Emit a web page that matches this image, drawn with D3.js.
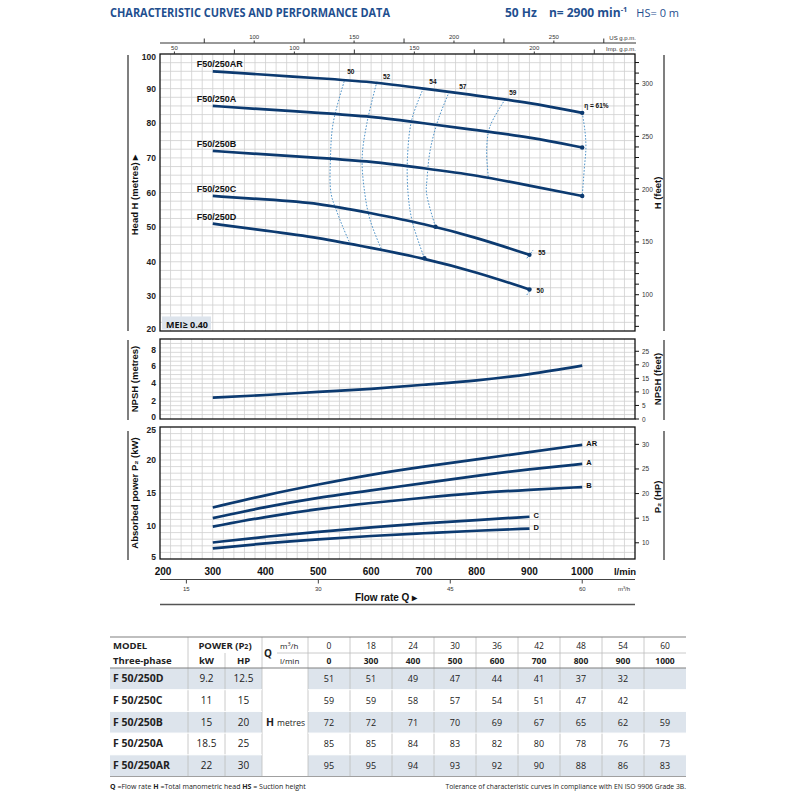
<!DOCTYPE html>
<html>
<head>
<meta charset="utf-8">
<script src="https://cdn.jsdelivr.net/npm/d3@7/dist/d3.min.js"></script>
<style>
  body { margin: 0; background: #fff; }
  svg { display: block; }
  .lbl { font-family: "Liberation Sans Narrow", "Liberation Sans", Arial, sans-serif; }
  .tbl { font-family: "Open Sans", "Noto Sans", sans-serif; }
</style>
</head>
<body>
<script>

//Table data
var qLmin = [0, 300, 400, 500, 600, 700, 800, 900, 1000];
var qM3h = [0, 18, 24, 30, 36, 42, 48, 54, 60];
var models = ["F 50/250D", "F 50/250C", "F 50/250B", "F 50/250A", "F 50/250AR"];
var curveNames = ["F50/250D", "F50/250C", "F50/250B", "F50/250A", "F50/250AR"];
var powerKw = [9.2, 11, 15, 18.5, 22];
var powerHp = [12.5, 15, 20, 25, 30];
var headD = [51, 51, 49, 47, 44, 41, 37, 32, null];
var headC = [59, 59, 58, 57, 54, 51, 47, 42, null];
var headB = [72, 72, 71, 70, 69, 67, 65, 62, 59];
var headA = [85, 85, 84, 83, 82, 80, 78, 76, 73];
var headAR = [95, 95, 94, 93, 92, 90, 88, 86, 83];
var heads = [headD, headC, headB, headA, headAR];

//NPSH curve
var npshQ = [300, 400, 500, 600, 700, 800, 900, 1000];
var npshM = [2.4, 2.7, 3.05, 3.4, 3.85, 4.35, 5.05, 6.0];

//Absorbed power curves
var powQ = [300, 400, 500, 600, 700, 800, 900, 1000];
var powD = [6.6, 7.4, 8.0, 8.5, 8.9, 9.3, 9.6];
var powC = [7.5, 8.4, 9.1, 9.8, 10.4, 10.9, 11.4];
var powB = [9.9, 11.4, 12.6, 13.5, 14.3, 15.0, 15.5, 15.9];
var powA = [11.2, 12.9, 14.3, 15.4, 16.5, 17.6, 18.6, 19.4];
var powAR = [12.8, 14.7, 16.3, 17.8, 19.0, 20.1, 21.2, 22.3];
var powers = [powD, powC, powB, powA, powAR];
var powNames = ["D", "C", "B", "A", "AR"];

//Efficiency curves [Q, H]
var eff50 = [[549, 92.1], [528, 80], [523, 69.9], [524, 59.8], [535, 54.5], [548, 49.5], [560, 45.2]];
var eff52 = [[611, 92.0], [592, 80], [583, 69.9], [588, 59.8], [598, 52.1], [620, 43.4]];
var eff54 = [[699, 90.1], [677, 81], [669, 70.4], [670, 59.8], [678, 51.6], [701, 41]];
var eff57 = [[748, 89.1], [727, 81], [712, 72.3], [706, 64], [705, 59.8], [722, 50.1]];
var eff59 = [[854, 86.9], [825, 79], [819, 72.3], [822, 64.5]];
var eff61 = [[1000, 83], [1005, 78], [1007, 73], [1004, 67], [1000, 59]];
var eff55 = [[895, 41.0], [907, 43.4]];
var eff50b = [[895, 30.4], [904, 32.4]];
var effCurves = [eff50, eff52, eff54, eff57, eff59, eff61, eff55, eff50b];
var effLabels = ["50", "52", "54", "57", "59", "\u03b7 = 61%", "55", "50"];
var effMarks = [[701, 41], [722, 50.1]];

//Axis ticks
var headTicks = [20, 30, 40, 50, 60, 70, 80, 90, 100];
var feetTicks = [100, 150, 200, 250, 300];
var npshTicks = [0, 2, 4, 6, 8];
var npshFtTicks = [0, 5, 10, 15, 20, 25];
var powTicks = [5, 10, 15, 20, 25];
var hpTicks = [10, 15, 20, 25, 30];
var qTicks = [200, 300, 400, 500, 600, 700, 800, 900, 1000];
var m3hTicks = [15, 30, 45, 60];
var usTicks = [100, 150, 200, 250];
var impTicks = [50, 100, 150, 200];

var navy = "#0c3a70";
var effBlue = "#4f93c8";
var gridC = "#cfcfcf";
var shade = "#dde4ec";

var svg = d3.select("body").append("svg")
    .attr("width", 800)
    .attr("height", 800);

//Set up scales
var x = d3.scaleLinear().domain([200, 1100]).range([160, 635]);
var yH = d3.scaleLinear().domain([20, 100]).range([331, 54]);
var yN = d3.scaleLinear().domain([0, 9]).range([419, 339]);
var yP = d3.scaleLinear().domain([5, 25]).range([559, 427]);

var FT = 0.3048, HPKW = 0.7457;

//Title
svg.append("text").attr("class", "tbl")
    .attr("x", 110).attr("y", 17)
    .attr("font-size", 12.5).attr("font-weight", "bold").attr("fill", "#1f4f8f")
    .attr("textLength", 280).attr("lengthAdjust", "spacingAndGlyphs")
    .text("CHARACTERISTIC CURVES AND PERFORMANCE DATA");

var head = svg.append("text").attr("class", "tbl")
    .attr("x", 505).attr("y", 17)
    .attr("font-size", 12).attr("fill", "#1f4f8f");
head.append("tspan").attr("font-weight", "bold").text("50 Hz");
head.append("tspan").attr("dx", 12).attr("font-weight", "bold").text("n= 2900 min");
head.append("tspan").attr("font-weight", "bold").attr("font-size", 7.5).attr("dy", -5).text("-1");
head.append("tspan").attr("dx", 9).attr("dy", 5).attr("font-size", 11).text("HS= 0 m");

//Draw a panel: grid + border
function panel(yScale, hStep, y0, y1) {
    var g = svg.append("g");
    g.selectAll(".vg")
        .data(d3.range(220, 1100, 20))
        .enter().append("line")
        .attr("x1", function(d) { return x(d); })
        .attr("x2", function(d) { return x(d); })
        .attr("y1", yScale(y0)).attr("y2", yScale(y1))
        .attr("stroke", gridC).attr("stroke-width", 0.8);
    g.selectAll(".hg")
        .data(d3.range(y0 + hStep, y1 - 0.001, hStep))
        .enter().append("line")
        .attr("x1", x(200)).attr("x2", x(1100))
        .attr("y1", function(d) { return yScale(d); })
        .attr("y2", function(d) { return yScale(d); })
        .attr("stroke", gridC).attr("stroke-width", 0.8);
    g.append("rect")
        .attr("x", x(200)).attr("y", yScale(y1))
        .attr("width", x(1100) - x(200)).attr("height", yScale(y0) - yScale(y1))
        .attr("fill", "none").attr("stroke", "#111").attr("stroke-width", 1.3);
    return g;
}

//labels at panel edges are nudged inside
function leftLabels(ticks, yScale) {
    var lo = d3.min(ticks), hi = d3.max(ticks);
    svg.append("g").selectAll("text")
        .data(ticks).enter().append("text").attr("class", "lbl")
        .attr("x", x(200) - 4)
        .attr("y", function(d) { return yScale(d) + (d === lo ? 0.5 : d === hi ? 5.5 : 3); })
        .attr("text-anchor", "end").attr("font-size", 8.5).attr("font-weight", "bold")
        .attr("fill", "#222")
        .text(function(d) { return d; });
}

function rightAxis(minor, major, toY) {
    var g = svg.append("g");
    g.selectAll("line").data(minor).enter().append("line")
        .attr("x1", x(1100)).attr("x2", x(1100) + 4)
        .attr("y1", function(d) { return toY(d); })
        .attr("y2", function(d) { return toY(d); })
        .attr("stroke", "#111").attr("stroke-width", 1);
    g.selectAll("text").data(major).enter().append("text").attr("class", "lbl")
        .attr("x", x(1100) + 7)
        .attr("y", function(d) { return toY(d) + 2.5; })
        .attr("font-size", 6.5).attr("fill", "#333")
        .text(function(d) { return d; });
}

function sideTitle(xPos, yMid, txt, size) {
    svg.append("text").attr("class", "lbl")
        .attr("transform", "translate(" + xPos + "," + yMid + ") rotate(-90)")
        .attr("text-anchor", "middle").attr("font-size", size || 9.5)
        .attr("font-weight", "bold").attr("fill", "#111")
        .text(txt);
}

function sideLine(xPos, ya, yb) {
    svg.append("line")
        .attr("x1", xPos).attr("x2", xPos).attr("y1", ya).attr("y2", yb)
        .attr("stroke", "#555").attr("stroke-width", 1.5);
}

var lineGen = function(yScale, curve) {
    return d3.line()
        .x(function(d) { return x(d[0]); })
        .y(function(d) { return yScale(d[1]); })
        .curve(curve || d3.curveMonotoneX);
};

//===== Head panel =====
panel(yH, 2.5, 20, 100);
leftLabels(headTicks, yH);
rightAxis(d3.range(70, 330, 10), feetTicks, function(d) { return yH(d * FT); });
sideTitle(138, 195, "Head H  (metres)  \u25B8");
sideTitle(661, 193, "H  (feet)");
sideLine(128, 55, 331);
sideLine(664, 55, 331);

//MEI box
svg.append("rect").attr("x", x(200) + 2).attr("y", yH(24.2))
    .attr("width", 49).attr("height", yH(20) - yH(24.2) - 1.5).attr("fill", shade);
svg.append("text").attr("class", "tbl")
    .attr("x", x(200) + 6).attr("y", yH(20) - 3.5)
    .attr("font-size", 9).attr("font-weight", "bold").attr("fill", "#111")
    .text("MEI\u2265 0.40");

//Top flow axes (US and Imp gpm)
svg.append("line").attr("x1", x(200)).attr("x2", x(1100) + 1)
    .attr("y1", 43).attr("y2", 43).attr("stroke", "#333").attr("stroke-width", 1);
svg.append("g").selectAll("line")
    .data(d3.range(75, 300, 25)).enter().append("line")
    .attr("x1", function(d) { return x(d * 3.785); })
    .attr("x2", function(d) { return x(d * 3.785); })
    .attr("y1", 43).attr("y2", function(d) { return d % 50 ? 38.5 : 40.5; })
    .attr("stroke", "#333");
svg.append("g").selectAll("text")
    .data(usTicks).enter().append("text").attr("class", "lbl")
    .attr("x", function(d) { return x(d * 3.785); }).attr("y", 39)
    .attr("text-anchor", "middle").attr("font-size", 6).attr("fill", "#333")
    .text(function(d) { return d; });
svg.append("g").selectAll("line")
    .data(d3.range(50, 250, 25)).enter().append("line")
    .attr("x1", function(d) { return x(d * 4.546); })
    .attr("x2", function(d) { return x(d * 4.546); })
    .attr("y1", 54).attr("y2", function(d) { return d % 50 ? 49.5 : 51.5; })
    .attr("stroke", "#333");
svg.append("g").selectAll("text")
    .data(impTicks).enter().append("text").attr("class", "lbl")
    .attr("x", function(d) { return x(d * 4.546); }).attr("y", 50)
    .attr("text-anchor", "middle").attr("font-size", 6).attr("fill", "#333")
    .text(function(d) { return d; });
svg.append("text").attr("class", "lbl").attr("x", x(1100) + 1).attr("y", 40)
    .attr("text-anchor", "end").attr("font-size", 6).attr("fill", "#333").text("US g.p.m.");
svg.append("text").attr("class", "lbl").attr("x", x(1100) + 1).attr("y", 51)
    .attr("text-anchor", "end").attr("font-size", 6).attr("fill", "#333").text("Imp. g.p.m.");

//Efficiency curves
var effLine = d3.line()
    .x(function(d) { return x(d[0]); })
    .y(function(d) { return yH(d[1]); })
    .curve(d3.curveCatmullRom);
svg.append("g").selectAll("path")
    .data(effCurves).enter().append("path")
    .attr("d", effLine)
    .attr("fill", "none").attr("stroke", effBlue)
    .attr("stroke-width", 1).attr("stroke-dasharray", "1.6,1.6");

//H-Q curves
var hq = heads.map(function(h) {
    var pts = [];
    for (var i = 1; i < qLmin.length; i++) {
        if (h[i] !== null) pts.push([qLmin[i], h[i]]);
    }
    return pts;
});
svg.append("g").selectAll("path")
    .data(hq).enter().append("path")
    .attr("d", lineGen(yH, d3.curveBasis))
    .attr("fill", "none").attr("stroke", navy).attr("stroke-width", 2.7);

//end dots
var ends = hq.map(function(p) { return p[p.length - 1]; }).concat(effMarks);
svg.append("g").selectAll("circle")
    .data(ends).enter().append("circle")
    .attr("cx", function(d) { return x(d[0]); })
    .attr("cy", function(d) { return yH(d[1]); })
    .attr("r", 2.2).attr("fill", navy);

//curve names
svg.append("g").selectAll("text")
    .data(hq).enter().append("text").attr("class", "lbl")
    .attr("x", function(d) { return x(d[0][0]) - 16; })
    .attr("y", function(d) { return yH(d[0][1]) - 4; })
    .attr("font-size", 9).attr("font-weight", "bold").attr("fill", "#111")
    .text(function(d, i) { return curveNames[i]; });

//efficiency labels
var effLabelPos = [[0, 3, -7], [0, 6, -3], [0, 6, -4], [0, 10, -3], [0, 4, -4], [0, 2, -5], [1, 5, 5], [1, 5, 5]];
svg.append("g").selectAll("text")
    .data(effCurves).enter().append("text").attr("class", "lbl")
    .attr("x", function(d, i) { var p = d[effLabelPos[i][0]]; return x(p[0]) + effLabelPos[i][1]; })
    .attr("y", function(d, i) { var p = d[effLabelPos[i][0]]; return yH(p[1]) + effLabelPos[i][2]; })
    .attr("font-size", 6.5).attr("font-weight", "bold").attr("fill", "#111")
    .text(function(d, i) { return effLabels[i]; });

//===== NPSH panel =====
panel(yN, 0.5, 0, 9);
leftLabels(npshTicks, yN);
rightAxis(npshFtTicks, npshFtTicks, function(d) { return yN(d * FT); });
sideTitle(138, 379, "NPSH  (metres)");
sideTitle(661, 379, "NPSH  (feet)");
sideLine(128, 340, 420);
sideLine(664, 340, 420);
svg.append("path")
    .datum(npshQ.map(function(q, i) { return [q, npshM[i]]; }))
    .attr("d", lineGen(yN))
    .attr("fill", "none").attr("stroke", navy).attr("stroke-width", 2.7);

//===== Power panel =====
panel(yP, 1, 5, 25);
leftLabels(powTicks, yP);
rightAxis(hpTicks, hpTicks, function(d) { return yP(d * HPKW); });
sideTitle(138, 493, "Absorbed power  P\u2082  (kW)");
sideTitle(661, 497, "P\u2082  (HP)");
sideLine(128, 431, 560);
sideLine(664, 431, 560);

var pw = powers.map(function(p) {
    return p.map(function(v, i) { return [powQ[i], v]; });
});
svg.append("g").selectAll("path")
    .data(pw).enter().append("path")
    .attr("d", lineGen(yP, d3.curveBasis))
    .attr("fill", "none").attr("stroke", navy).attr("stroke-width", 2.7);
svg.append("g").selectAll("text")
    .data(pw).enter().append("text").attr("class", "lbl")
    .attr("x", function(d) { return x(d[d.length - 1][0]) + 4; })
    .attr("y", function(d) { return yP(d[d.length - 1][1]) + 1; })
    .attr("font-size", 7.5).attr("font-weight", "bold").attr("fill", "#111")
    .text(function(d, i) { return powNames[i]; });

//Bottom flow axes
svg.append("g").selectAll("text")
    .data(qTicks).enter().append("text").attr("class", "lbl")
    .attr("x", function(d) { return d === 200 ? x(d) + 3 : x(d); }).attr("y", 575)
    .attr("text-anchor", "middle").attr("font-size", 10).attr("font-weight", "bold")
    .attr("fill", "#111")
    .text(function(d) { return d; });
svg.append("text").attr("class", "lbl").attr("x", 625).attr("y", 575)
    .attr("text-anchor", "middle").attr("font-size", 9.5).attr("font-weight", "bold")
    .attr("fill", "#111").text("l/min");

svg.append("line").attr("x1", x(200)).attr("x2", x(1100))
    .attr("y1", 579.5).attr("y2", 579.5).attr("stroke", "#444");
svg.append("g").selectAll("line")
    .data(m3hTicks).enter().append("line")
    .attr("x1", function(d) { return x(d * 1000 / 60); })
    .attr("x2", function(d) { return x(d * 1000 / 60); })
    .attr("y1", 579.5).attr("y2", 583.5).attr("stroke", "#444");
svg.append("g").selectAll("text")
    .data(m3hTicks).enter().append("text").attr("class", "lbl")
    .attr("x", function(d) { return x(d * 1000 / 60); }).attr("y", 591)
    .attr("text-anchor", "middle").attr("font-size", 6).attr("fill", "#333")
    .text(function(d) { return d; });
var m3 = svg.append("text").attr("class", "lbl").attr("x", 624).attr("y", 591)
    .attr("text-anchor", "middle").attr("font-size", 6).attr("fill", "#333");
m3.append("tspan").text("m");
m3.append("tspan").attr("dy", -2).attr("font-size", 4).text("3");
m3.append("tspan").attr("dy", 2).text("/h");

svg.append("text").attr("x", 386).attr("y", 601)
    .attr("font-family", "Liberation Sans, Arial, sans-serif")
    .attr("text-anchor", "middle").attr("font-size", 10).attr("font-weight", "bold")
    .attr("fill", "#111").text("Flow rate  Q  \u25B8");
svg.append("line").attr("x1", x(200)).attr("x2", x(1100))
    .attr("y1", 604.5).attr("y2", 604.5).attr("stroke", "#555").attr("stroke-width", 1.5);

//===== Table =====
var tX = [110, 188, 225, 262, 308];
var colW = 42;
var tTop = 637, r1 = 653, r2 = 668, rowH = 21.7;
var tRight = tX[4] + colW * qLmin.length;
var tbl = svg.append("g").attr("class", "tbl");

//shaded rows
models.forEach(function(m, i) {
    if (i % 2 === 0) {
        var yy = r2 + i * rowH;
        tbl.append("rect").attr("x", tX[0]).attr("y", yy).attr("width", tX[3] - tX[0]).attr("height", rowH).attr("fill", shade);
        tbl.append("rect").attr("x", tX[4]).attr("y", yy).attr("width", tRight - tX[4]).attr("height", rowH).attr("fill", shade);
    }
});
var tBottom = r2 + models.length * rowH;

//vertical separators
var vCols = [tX[1], tX[3], tX[4]].concat(d3.range(1, qLmin.length).map(function(i) { return tX[4] + i * colW; }));
tbl.selectAll(".vs").data(vCols).enter().append("line")
    .attr("x1", function(d) { return d; }).attr("x2", function(d) { return d; })
    .attr("y1", tTop).attr("y2", tBottom)
    .attr("stroke", "#bdbdbd").attr("stroke-width", 0.8);
tbl.append("line").attr("x1", tX[2]).attr("x2", tX[2]).attr("y1", r1).attr("y2", tBottom)
    .attr("stroke", "#bdbdbd").attr("stroke-width", 0.8);
//horizontal lines
tbl.append("line").attr("x1", 277).attr("x2", tRight).attr("y1", r1).attr("y2", r1)
    .attr("stroke", "#bdbdbd").attr("stroke-width", 0.8);
models.forEach(function(m, i) {
    if (i > 0) {
        var yy = r2 + i * rowH;
        tbl.append("line").attr("x1", tX[0]).attr("x2", tX[3]).attr("y1", yy).attr("y2", yy).attr("stroke", "#fff");
        tbl.append("line").attr("x1", tX[4]).attr("x2", tRight).attr("y1", yy).attr("y2", yy).attr("stroke", "#fff");
    }
});
[tTop, r2, tBottom].forEach(function(yy, i) {
    tbl.append("line").attr("x1", tX[0]).attr("x2", tRight).attr("y1", yy).attr("y2", yy)
        .attr("stroke", i === 2 ? "#a0a0a0" : "#808080").attr("stroke-width", 1.2);
});

function cell(txt, xx, yy, opts) {
    opts = opts || {};
    return tbl.append("text").attr("x", xx).attr("y", yy)
        .attr("text-anchor", opts.anchor || "middle")
        .attr("font-size", opts.size || 9)
        .attr("font-weight", opts.bold ? "bold" : "normal")
        .attr("fill", "#222").text(txt);
}

cell("MODEL", 113, r1 - 4, { anchor: "start", bold: true, size: 9.5 });
cell("Three-phase", 113, r2 - 4, { anchor: "start", bold: true, size: 9.5 });
var pow = tbl.append("text").attr("x", (tX[1] + tX[3]) / 2).attr("y", r1 - 4)
    .attr("text-anchor", "middle").attr("font-size", 9.5).attr("font-weight", "bold").attr("fill", "#222");
pow.append("tspan").text("POWER (P");
pow.append("tspan").attr("font-size", 7).text("2");
pow.append("tspan").text(")");
cell("kW", (tX[1] + tX[2]) / 2, r2 - 4, { bold: true, size: 9.5 });
cell("HP", (tX[2] + tX[3]) / 2, r2 - 4, { bold: true, size: 9.5 });
cell("Q", 268, r1 + 4, { bold: true, size: 10 });
var mh = tbl.append("text").attr("x", 280).attr("y", r1 - 4).attr("font-size", 8).attr("fill", "#222");
mh.append("tspan").text("m");
mh.append("tspan").attr("dy", -3).attr("font-size", 5.5).text("3");
mh.append("tspan").attr("dy", 3).text("/h");
cell("l/min", 280, r2 - 4, { anchor: "start", size: 8 });

qM3h.forEach(function(v, i) {
    cell(v, tX[4] + colW * (i + 0.5), r1 - 4, { size: 8.5 });
});
qLmin.forEach(function(v, i) {
    cell(v, tX[4] + colW * (i + 0.5), r2 - 4, { size: 8.5, bold: true });
});

models.forEach(function(m, i) {
    var yy = r2 + i * rowH + rowH / 2 + 3.5;
    cell(m, 113, yy, { anchor: "start", bold: true, size: 10.5 });
    cell(powerKw[i], (tX[1] + tX[2]) / 2, yy, { size: 10 });
    cell(powerHp[i], (tX[2] + tX[3]) / 2, yy, { size: 10 });
    heads[i].forEach(function(v, j) {
        if (v !== null) cell(v, tX[4] + colW * (j + 0.5), yy, { size: 9 });
    });
});
var hm = tbl.append("text").attr("x", 266).attr("y", r2 + 2.5 * rowH + 3.5).attr("fill", "#222");
hm.append("tspan").attr("font-size", 10.5).attr("font-weight", "bold").text("H");
hm.append("tspan").attr("dx", 3).attr("font-size", 8.5).text("metres");

//Footnotes
var fn = tbl.append("text").attr("x", 110).attr("y", 789).attr("font-size", 7).attr("fill", "#222");
fn.append("tspan").attr("font-weight", "bold").text("Q");
fn.append("tspan").text(" =Flow rate  ");
fn.append("tspan").attr("font-weight", "bold").text("H");
fn.append("tspan").text(" =Total manometric head  ");
fn.append("tspan").attr("font-weight", "bold").text("HS");
fn.append("tspan").text(" = Suction height");
tbl.append("text").attr("x", tRight).attr("y", 789).attr("text-anchor", "end")
    .attr("font-size", 6.8).attr("fill", "#222")
    .text("Tolerance of characteristic curves in compliance with EN ISO 9906 Grade 3B.");

</script>
</body>
</html>
